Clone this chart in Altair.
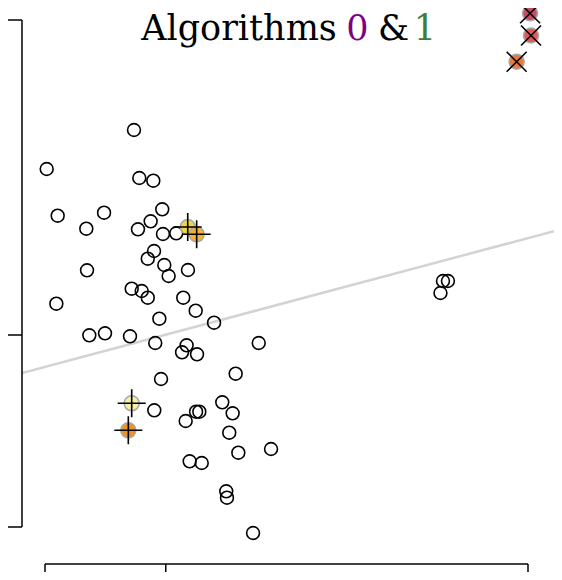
import altair as alt
import pandas as pd

# ---- data ----
circ_x = [0.737, 0.014, 0.781, 0.897, 0.105, 0.489, 0.342, 0.971, 0.875, 0.770,
          0.977, 1.087, 0.903, 0.851, 0.988, 1.024, 1.184, 0.348, 0.718, 0.801,
          0.851, 0.094, 1.145, 1.248, 0.947, 1.400, 0.367, 0.497, 0.704, 0.913,
          1.173, 1.135, 1.259, 1.770, 3.296, 3.337, 3.275, 1.579, 0.961, 0.905,
          1.468, 1.251, 1.278, 1.165, 1.554, 1.526, 1.601, 1.872, 1.198, 1.298,
          1.501, 1.507, 1.723]
circ_y = [2.050, 1.660, 1.570, 1.543, 1.193, 1.223, 1.063, 1.257, 1.137, 1.057,
          1.010, 1.017, 0.840, 0.763, 0.700, 0.590, 0.650, 0.647, 0.463, 0.440,
          0.373, 0.313, 0.373, 0.243, 0.163, 0.123, -0.003, 0.017, -0.013, -0.080,
          -0.103, -0.173, -0.193, -0.080, 0.540, 0.540, 0.420, -0.387, -0.440, -0.753,
          -0.673, -0.767, -0.767, -0.860, -0.783, -0.977, -1.177, -1.140, -1.263, -1.280,
          -1.563, -1.627, -1.980]

plus_x = [1.182, 1.256, 0.718, 0.690]
plus_y = [1.080, 1.007, -0.683, -0.953]
plus_color = ["#efd03e", "#f4ad22", "#f5f0a0", "#ef8a14"]

cross_x = [4.017, 4.025, 3.906]
cross_y = [3.217, 2.995, 2.733]
cross_color = ["#c43c5c", "#dd4b48", "#ee6d26"]

x_ticks = [0, 1, 4]
y_ticks = [3.15, 0, -1.92]

fit_intercept = -0.319
fit_slope = 0.322

title_parts = ["Algorithms", "0", "&", "1"]
title_colors = ["#000000", "#800080", "#000000", "#3a7f3a"]

# ---- layout ----
X_DOMAIN = [-0.1905, 4.2153]
Y_DOMAIN = [-2.29, 3.27]
W, H = 532, 556

xs = alt.Scale(domain=X_DOMAIN, nice=False, zero=False)
ys = alt.Scale(domain=Y_DOMAIN, nice=False, zero=False)

circles = pd.DataFrame({"x": circ_x, "y": circ_y})
plus = pd.DataFrame({"x": plus_x, "y": plus_y, "c": plus_color})
cross = pd.DataFrame({"x": cross_x, "y": cross_y, "c": cross_color})
fit = pd.DataFrame({"x": X_DOMAIN,
                    "y": [fit_intercept + fit_slope * v for v in X_DOMAIN]})
yt = pd.DataFrame({"y": y_ticks})
xt = pd.DataFrame({"x": x_ticks})
yspan = pd.DataFrame({"y": [max(y_ticks)], "y2": [min(y_ticks)]})
xspan = pd.DataFrame({"x": [min(x_ticks)], "x2": [max(x_ticks)]})

X = lambda f="x": alt.X(f"{f}:Q", scale=xs, axis=None)
Y = lambda f="y": alt.Y(f"{f}:Q", scale=ys, axis=None)

line = alt.Chart(fit).mark_line(color="#d3d3d3", strokeWidth=2.5, clip=True).encode(x=X(), y=Y())

pts = alt.Chart(circles).mark_point(shape="circle", size=165, color="black",
                                    strokeWidth=1.6, opacity=1, filled=False).encode(x=X(), y=Y())

plus_fill = alt.Chart(plus).mark_circle(size=225, opacity=1, fillOpacity=0.92,
                                        stroke="#a8a8a8", strokeWidth=1.6).encode(
    x=X(), y=Y(), fill=alt.Fill("c:N", scale=None))
plus_mark = alt.Chart(plus).mark_point(shape="M-1,0L1,0M0,-1L0,1", size=784, color="black",
                                       strokeWidth=1.6, opacity=1, filled=False).encode(x=X(), y=Y())

cross_fill = alt.Chart(cross).mark_circle(size=225, opacity=1, fillOpacity=0.92,
                                          stroke="#a8a8a8", strokeWidth=1.6).encode(
    x=X(), y=Y(), fill=alt.Fill("c:N", scale=None))
cross_mark = alt.Chart(cross).mark_point(shape="M-1,-1L1,1M-1,1L1,-1", size=400, color="black",
                                         strokeWidth=1.6, opacity=1, filled=False).encode(x=X(), y=Y())

# range-frame axes
y_dom = alt.Chart(yspan).mark_rule(color="black", strokeWidth=1.5).encode(
    x=alt.value(0), y=Y("y"), y2="y2:Q")
y_tk = alt.Chart(yt).mark_rule(color="black", strokeWidth=1.5).encode(
    x=alt.value(-15), x2=alt.value(0), y=Y("y"))
x_dom = alt.Chart(xspan).mark_rule(color="black", strokeWidth=1.5).encode(
    y=alt.value(H), x=X("x"), x2="x2:Q")
x_tk = alt.Chart(xt).mark_rule(color="black", strokeWidth=1.5).encode(
    y=alt.value(H), y2=alt.value(H + 14), x=X("x"))

# centres of each title piece (plot coordinates)
title_cx = [217, 335.5, 371.5, 403]
titles = []
for txt, col, tx in zip(title_parts, title_colors, title_cx):
    titles.append(
        alt.Chart(pd.DataFrame({"t": [txt]})).mark_text(
            font="DejaVu Serif", fontSize=35, align="center", baseline="alphabetic", color=col
        ).encode(x=alt.value(tx), y=alt.value(32), text="t:N")
    )

chart = alt.layer(line, pts, plus_fill, plus_mark, cross_fill, cross_mark,
                  y_dom, y_tk, x_dom, x_tk, *titles).properties(
    width=W, height=H,
    autosize=alt.AutoSizeParams(type="none"),
    padding={"left": 14, "top": 0, "right": 0, "bottom": 8},
).configure_view(strokeWidth=0)

chart.save("out.html", embed_options={"renderer": "svg", "actions": False})
